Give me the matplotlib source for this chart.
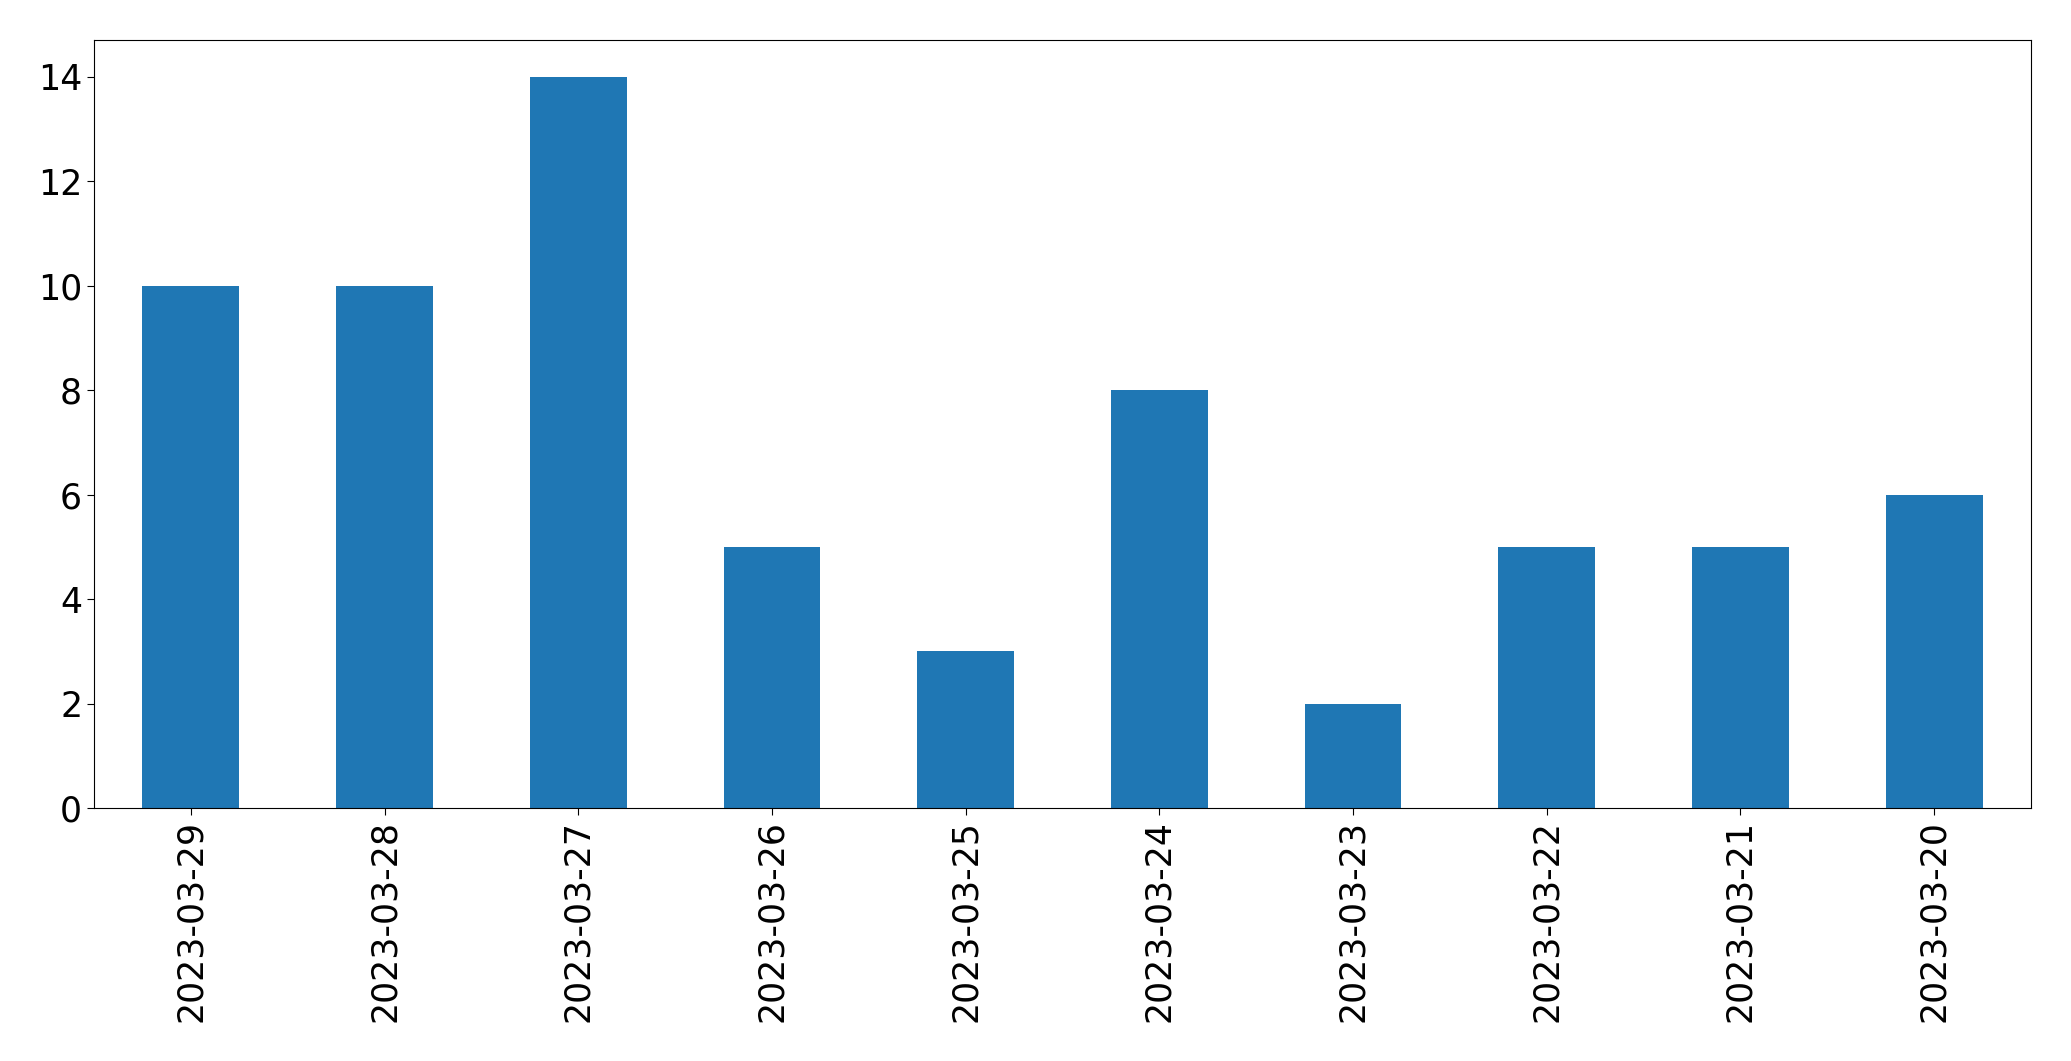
import matplotlib
matplotlib.use("Agg")
import matplotlib.pyplot as plt

dates = ["2023-03-29", "2023-03-28", "2023-03-27", "2023-03-26", "2023-03-25",
         "2023-03-24", "2023-03-23", "2023-03-22", "2023-03-21", "2023-03-20"]
counts = [10, 10, 14, 5, 3, 8, 2, 5, 5, 6]

fig = plt.figure(figsize=(20.71, 10.61), dpi=100)
ax = fig.add_axes([94/2071, 1 - 808/1061, (2031-94)/2071, (808-40)/1061])
x = range(len(dates))
ax.bar(x, counts, width=0.5, color="#1f77b4")
ax.set_xlim(-0.5, len(dates) - 0.5)
ax.set_ylim(0, 14.7)
ax.set_xticks(list(x))
ax.set_xticklabels(dates, rotation=90)
ax.set_yticks([0, 2, 4, 6, 8, 10, 12, 14])
ax.tick_params(labelsize=25, length=5)
fig.savefig("out.png", dpi=100)
